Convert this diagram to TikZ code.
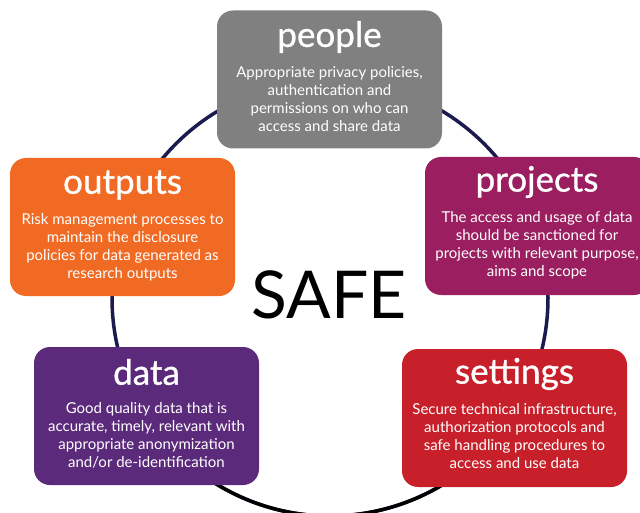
\documentclass[tikz,border=0pt]{standalone}
\usepackage{fontspec}
\setmainfont{Lato}
\newcommand{\semibold}[1]{\special{pdf:code 2 Tr 0.3 w}#1\special{pdf:code 0 Tr}}
\definecolor{cpeople}{HTML}{808080}
\definecolor{cprojects}{HTML}{9B1F60}
\definecolor{coutputs}{HTML}{F16A23}
\definecolor{cdata}{HTML}{5C2A7B}
\definecolor{csettings}{HTML}{C8202B}
\definecolor{ring}{HTML}{1B1B4D}
\begin{document}
\begin{tikzpicture}[x=1pt,y=-1pt,
  card/.style={rounded corners=16pt, minimum width=225pt, minimum height=138pt, inner sep=0pt, draw=none},
  ttl/.style={text=white, font=\fontsize{35}{35}\selectfont, anchor=center},
  body/.style={text=white, font=\fontsize{15}{18}\selectfont, align=center, anchor=north, inner sep=0pt}]
\useasboundingbox (0,0) rectangle (640,513);
\node[circle, draw=ring, line width=3.5pt, minimum size=436pt, inner sep=0pt] (ring) at (330,298) {};
\draw[black, line width=3.5pt] (330,298) ++(30:218) arc[start angle=30, end angle=150, radius=218];
\node[font=\fontsize{66}{66}\selectfont] (safe) at (329,295) {SAFE};
% people
\node[card, fill=cpeople] (people) at (329.5,79.5) {};
\node[ttl] (peoplet) at (329.5,37) {\semibold{people}};
\node[body] (peopleb) at (329.5,66) {Appropriate privacy policies,\\authentication and\\permissions on who can\\access and share data};
% projects
\node[card, fill=cprojects] (projects) at (537.5,226) {};
\node[ttl] (projectst) at (537,182) {\semibold{projects}};
\node[body] (projectsb) at (537,211) {The access and usage of data\\should be sanctioned for\\projects with relevant purpose,\\aims and scope};
% outputs
\node[card, fill=coutputs] (outputs) at (122.5,227) {};
\node[ttl] (outputst) at (122.5,185) {\semibold{outputs}};
\node[body] (outputsb) at (122.5,213) {Risk management processes to\\maintain the disclosure\\policies for data generated as\\research outputs};
% data
\node[card, fill=cdata] (data) at (146.5,416) {};
\node[ttl] (datat) at (146.5,372) {\semibold{data}};
\node[body] (datab) at (146.5,402) {Good quality data that is\\accurate, timely, relevant with\\appropriate anonymization\\and/or de-identification};
% settings
\node[card, fill=csettings] (settings) at (514.5,418) {};
\node[ttl] (settingst) at (514.5,374) {\semibold{settings}};
\node[body] (settingsb) at (514.5,403) {Secure technical infrastructure,\\authorization protocols and\\safe handling procedures to\\access and use data};
\end{tikzpicture}
\end{document}
